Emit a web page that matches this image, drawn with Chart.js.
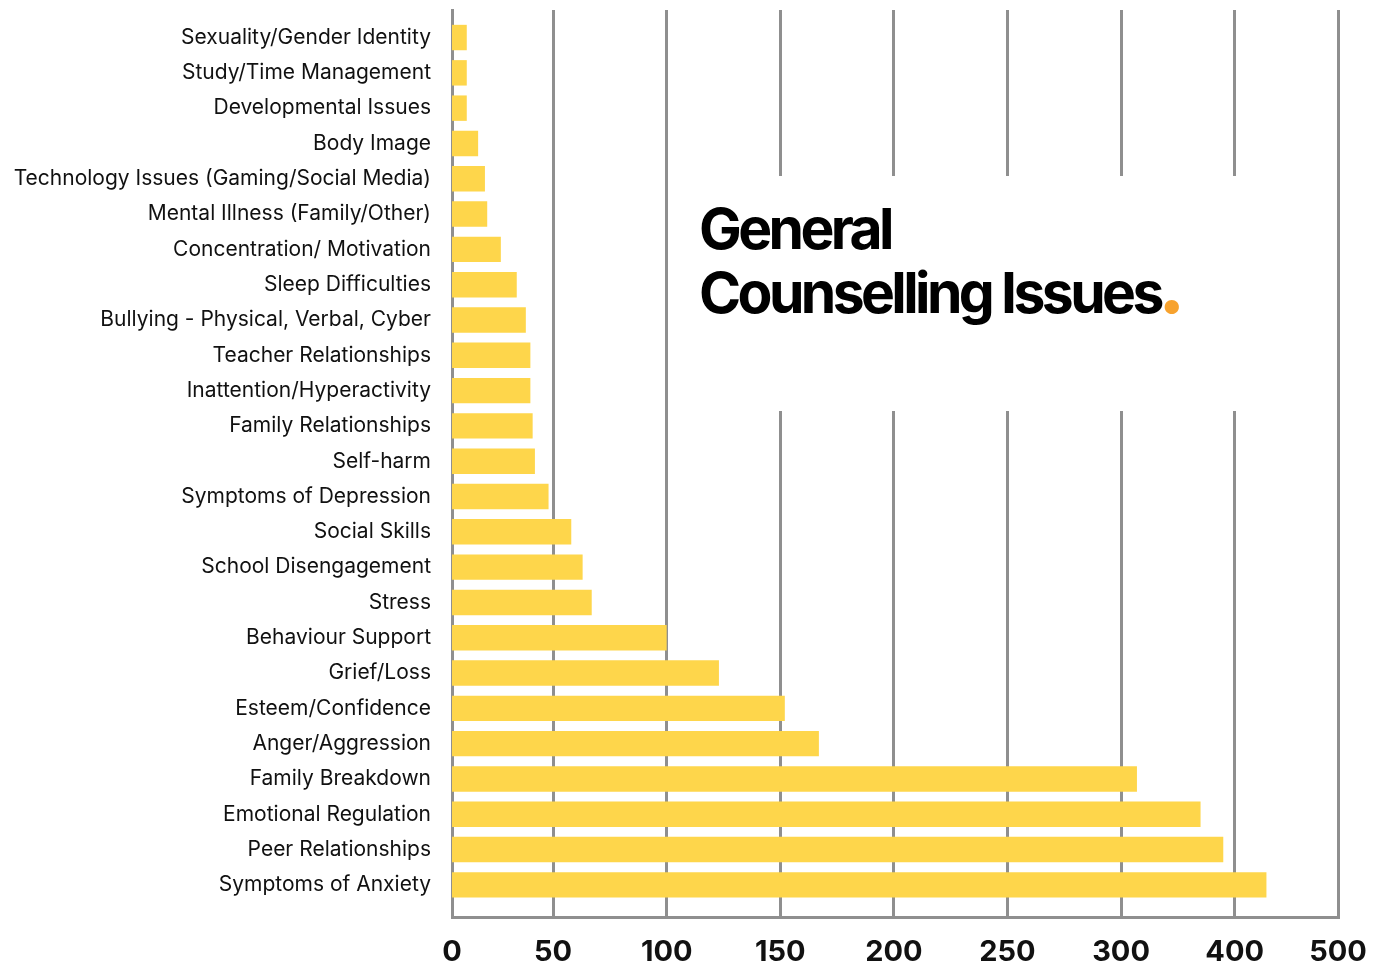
<!DOCTYPE html>
<html>
<head>
<meta charset="utf-8">
<title>General Counselling Issues</title>
<script src="https://cdn.jsdelivr.net/npm/chart.js@4.4.1/dist/chart.umd.min.js"></script>
<style>
  html, body { margin: 0; padding: 0; background: #fff; }
  #wrap { position: relative; width: 1376px; height: 969px; }
  #title {
    position: absolute; left: 688px; top: 176px; width: 610px; height: 235px;
    background: #fff; box-sizing: border-box; padding: 21px 0 0 11px;
    font-family: Inter, sans-serif; font-weight: 700; font-size: 57px; line-height: 64px;
    letter-spacing: -3.6px; color: #000;
  }
  #title .dot { color: #f7a22e; font-size: 84px; line-height: 0; letter-spacing: 0; margin-left: -3px; }
</style>
</head>
<body>
<div id="wrap">
  <canvas id="chart" width="1376" height="969"></canvas>
  <div id="title">General<br>Counselling Issues<span class="dot">.</span></div>
</div>
<script>
// issues, top to bottom
const categories = [
  "Sexuality/Gender Identity",
  "Study/Time Management",
  "Developmental Issues",
  "Body Image",
  "Technology Issues (Gaming/Social Media)",
  "Mental Illness (Family/Other)",
  "Concentration/ Motivation",
  "Sleep Difficulties",
  "Bullying - Physical, Verbal, Cyber",
  "Teacher Relationships",
  "Inattention/Hyperactivity",
  "Family Relationships",
  "Self-harm",
  "Symptoms of Depression",
  "Social Skills",
  "School Disengagement",
  "Stress",
  "Behaviour Support",
  "Grief/Loss",
  "Esteem/Confidence",
  "Anger/Aggression",
  "Family Breakdown",
  "Emotional Regulation",
  "Peer Relationships",
  "Symptoms of Anxiety"
]
const counts = [12, 12, 12, 17, 20, 21, 27, 34, 38, 40, 40, 41, 42, 48, 58, 63, 67, 100, 123, 152, 167, 307, 335, 345, 364]

const tickLabels = ["0", "50", "100", "150", "200", "250", "300", "400", "500"]

const gridGrey = "#8f8f8f"

// no automatic edge padding, the layout below sets the plot area
function noEdgePadding(s){
    s.paddingTop = 0
    s.paddingBottom = 0
    s.paddingLeft = 0
    s.paddingRight = 0
}

new Chart(document.getElementById("chart"), {
    type: "bar",
    data: {
        datasets: [{
            data: categories.map((c, i) => ({x: counts[i], y: i})),
            backgroundColor: "#fed64b",
            barPercentage: 0.9,
            categoryPercentage: 0.8
        }]
    },
    options: {
        indexAxis: "y",
        responsive: false,
        animation: false,
        layout: {padding: {top: 10, right: 38, left: 0, bottom: 0}},
        plugins: {
            legend: {display: false},
            tooltip: {enabled: false}
        },
        scales: {
            x: {
                type: "linear",
                position: "bottom",
                min: 5.5,
                max: 395.5,
                // gridline at each end plus every 50 in between
                afterBuildTicks: s => {
                    const t = [s.min]
                    for(let v = 50; v < s.max; v += 50) t.push(v)
                    t.push(s.max)
                    s.ticks = t.map(v => ({value: v}))
                },
                afterFit: s => {
                    s.height = 52
                    noEdgePadding(s)
                },
                grid: {color: gridGrey, lineWidth: 3, drawTicks: false},
                border: {display: true, color: gridGrey, width: 3},
                ticks: {
                    padding: 18,
                    autoSkip: false,
                    maxRotation: 0,
                    color: "#111",
                    font: {family: "Inter", size: 29, weight: "bold"},
                    callback: (v, i) => tickLabels[i]
                }
            },
            y: {
                type: "linear",
                reverse: true,
                offset: false,
                min: -0.78,
                max: 24.91,
                afterBuildTicks: s => {
                    s.ticks = categories.map((c, i) => ({value: i}))
                },
                afterFit: s => {
                    s.width = 452
                    noEdgePadding(s)
                },
                grid: {display: false, drawTicks: false, offset: false},
                border: {display: true, color: gridGrey, width: 3},
                ticks: {
                    padding: 21,
                    autoSkip: false,
                    color: "#111",
                    font: {family: "Inter", size: 21},
                    callback: v => categories[v]
                }
            }
        }
    }
})
</script>
</body>
</html>
